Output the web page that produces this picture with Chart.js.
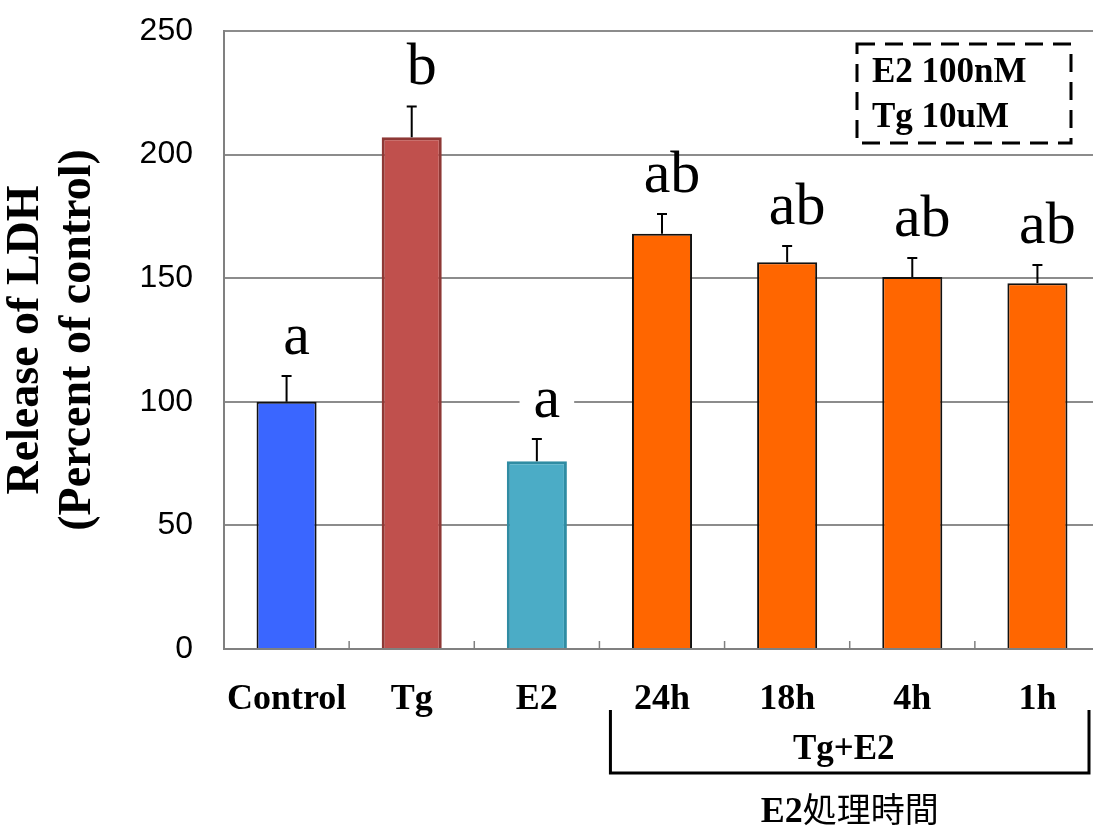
<!DOCTYPE html>
<html>
<head>
<meta charset="utf-8">
<script src="https://cdn.jsdelivr.net/npm/chart.js@4.4.1/dist/chart.umd.min.js"></script>
<style>
  html, body { margin: 0; padding: 0; background: #fff; overflow: hidden; }
  #wrap { width: 1120px; height: 826px; }
</style>
</head>
<body>
<div id="wrap"><canvas id="c" width="1120" height="826"></canvas></div>
<script>
// ---- data ----
const categories = ['Control', 'Tg', 'E2', '24h', '18h', '4h', '1h'];
const values = [100, 207, 76, 168, 156.5, 150.5, 148];
const errors = [10.4, 12.5, 9, 8, 6.5, 7.7, 7.3];
const letters = ['a', 'b', 'a', 'ab', 'ab', 'ab', 'ab'];
const yTicks = [0, 50, 100, 150, 200, 250];
const yTitle = ['Release of LDH', '(Percent of control)'];
const legendLines = ['E2 100nM', 'Tg 10uM'];
const groupLabel = 'Tg+E2';
const groupFirst = 3, groupLast = 6;
const noteLatin = 'E2', noteCJK = '処理時間';

// ---- styles ----
const fillColors = ['#3A66FF', '#C0504D', '#4BACC6', '#FF6600', '#FF6600', '#FF6600', '#FF6600'];
const edgeColors = ['#111111', '#8E3835', '#2F8CA3', '#111111', '#111111', '#111111', '#111111'];
const edgeWidths = [2, 3, 3, 2, 2, 2, 2];
const serif = '"Liberation Serif", "Times New Roman", serif';

const annot = {
  id: 'annot',
  afterDraw(chart) {
    const { ctx, chartArea: ca, scales: { x, y } } = chart;
    const meta = chart.getDatasetMeta(0);
    const half = (x.getPixelForValue(1) - x.getPixelForValue(0)) / 2;
    ctx.save();
    // inward tick marks at category boundaries
    ctx.strokeStyle = '#808080';
    ctx.lineWidth = 1.5;
    for (let i = 1; i < categories.length; i++) {
      const bx = (x.getPixelForValue(i - 1) + x.getPixelForValue(i)) / 2;
      ctx.beginPath();
      ctx.moveTo(bx, ca.bottom);
      ctx.lineTo(bx, ca.bottom - 8);
      ctx.stroke();
    }
    // error bars and significance letters
    meta.data.forEach((bar, i) => {
      const yt = y.getPixelForValue(values[i] + errors[i]);
      const yb = y.getPixelForValue(values[i]);
      ctx.strokeStyle = '#000';
      ctx.lineWidth = 2;
      ctx.beginPath();
      ctx.moveTo(bar.x, yb);
      ctx.lineTo(bar.x, yt);
      ctx.moveTo(bar.x - 5, yt);
      ctx.lineTo(bar.x + 5, yt);
      ctx.stroke();
      ctx.font = '60px ' + serif;
      const w = ctx.measureText(letters[i]).width;
      const cx = bar.x + 10, base = yt - 22;
      ctx.fillStyle = '#fff';
      ctx.fillRect(cx - w / 2 - 14, base - 30, w + 28, 30);
      ctx.fillStyle = '#000';
      ctx.textAlign = 'center';
      ctx.textBaseline = 'alphabetic';
      ctx.fillText(letters[i], cx, base);
    });
    // dashed note box
    const bw = 214, bh = 99;
    const bxr = ca.right - 29, byt = ca.top + 13;
    ctx.strokeStyle = '#000';
    ctx.lineWidth = 3;
    ctx.setLineDash([18, 10]);
    ctx.strokeRect(bxr - bw, byt, bw, bh);
    ctx.setLineDash([]);
    ctx.font = 'bold 35px ' + serif;
    ctx.textAlign = 'left';
    ctx.fillStyle = '#000';
    legendLines.forEach((t, k) => ctx.fillText(t, bxr - bw + 15, byt + 38 + k * 45));
    // bracket for the Tg+E2 group
    const xl = (x.getPixelForValue(groupFirst - 1) + x.getPixelForValue(groupFirst)) / 2 + 11;
    const xr = x.getPixelForValue(groupLast) + half - 11;
    const yTop = ca.bottom + 61, yBot = ca.bottom + 124;
    ctx.lineWidth = 3;
    ctx.beginPath();
    ctx.moveTo(xl, yTop);
    ctx.lineTo(xl, yBot);
    ctx.lineTo(xr, yBot);
    ctx.lineTo(xr, yTop);
    ctx.stroke();
    ctx.font = 'bold 35px ' + serif;
    ctx.textAlign = 'center';
    ctx.fillText(groupLabel, (xl + xr) / 2 - 6, ca.bottom + 110);
    // note below the bracket
    ctx.font = 'bold 36px ' + serif;
    const w1 = ctx.measureText(noteLatin).width;
    ctx.font = '34px "Noto Sans CJK JP", sans-serif';
    const w2 = ctx.measureText(noteCJK).width;
    const sx = (xl + xr) / 2 - (w1 + w2) / 2;
    ctx.textAlign = 'left';
    ctx.font = 'bold 36px ' + serif;
    ctx.fillText(noteLatin, sx, ca.bottom + 173);
    ctx.font = '34px "Noto Sans CJK JP", sans-serif';
    ctx.fillText(noteCJK, sx + w1, ca.bottom + 173);
    ctx.restore();
  }
};

new Chart(document.getElementById('c'), {
  type: 'bar',
  data: {
    labels: categories,
    datasets: [{
      data: values,
      backgroundColor: fillColors,
      borderColor: edgeColors,
      borderWidth: edgeWidths,
      barPercentage: 1,
      categoryPercentage: 0.48
    }]
  },
  options: {
    responsive: false,
    animation: false,
    events: [],
    layout: { padding: { left: 0, right: 20, top: 31, bottom: 0 } },
    plugins: { legend: { display: false }, tooltip: { enabled: false } },
    scales: {
      x: {
        grid: { display: false },
        border: { display: true, color: '#808080', width: 2 },
        ticks: {
          color: '#000', padding: 21, autoSkip: false, maxRotation: 0, minRotation: 0,
          font: { family: serif, size: 36, weight: 'bold' }
        },
        afterFit(scale) { scale.height = 177; }
      },
      y: {
        min: 0,
        max: 250,
        afterBuildTicks(scale) { scale.ticks = yTicks.map(v => ({ value: v })); },
        grid: { color: '#8c8c8c', lineWidth: 2, drawTicks: false },
        border: { display: true, color: '#808080', width: 2 },
        ticks: { color: '#000', padding: 31, font: { family: '"Liberation Sans", Arial, sans-serif', size: 32 } },
        title: {
          display: true,
          text: yTitle,
          color: '#000',
          padding: { top: 0, bottom: 0 },
          font: { family: serif, size: 46, weight: 'bold', lineHeight: '52px' }
        },
        afterFit(scale) { scale.width = 224; scale.paddingTop = 0; scale.paddingBottom = 0; }
      }
    }
  },
  plugins: [annot]
});
</script>
</body>
</html>
